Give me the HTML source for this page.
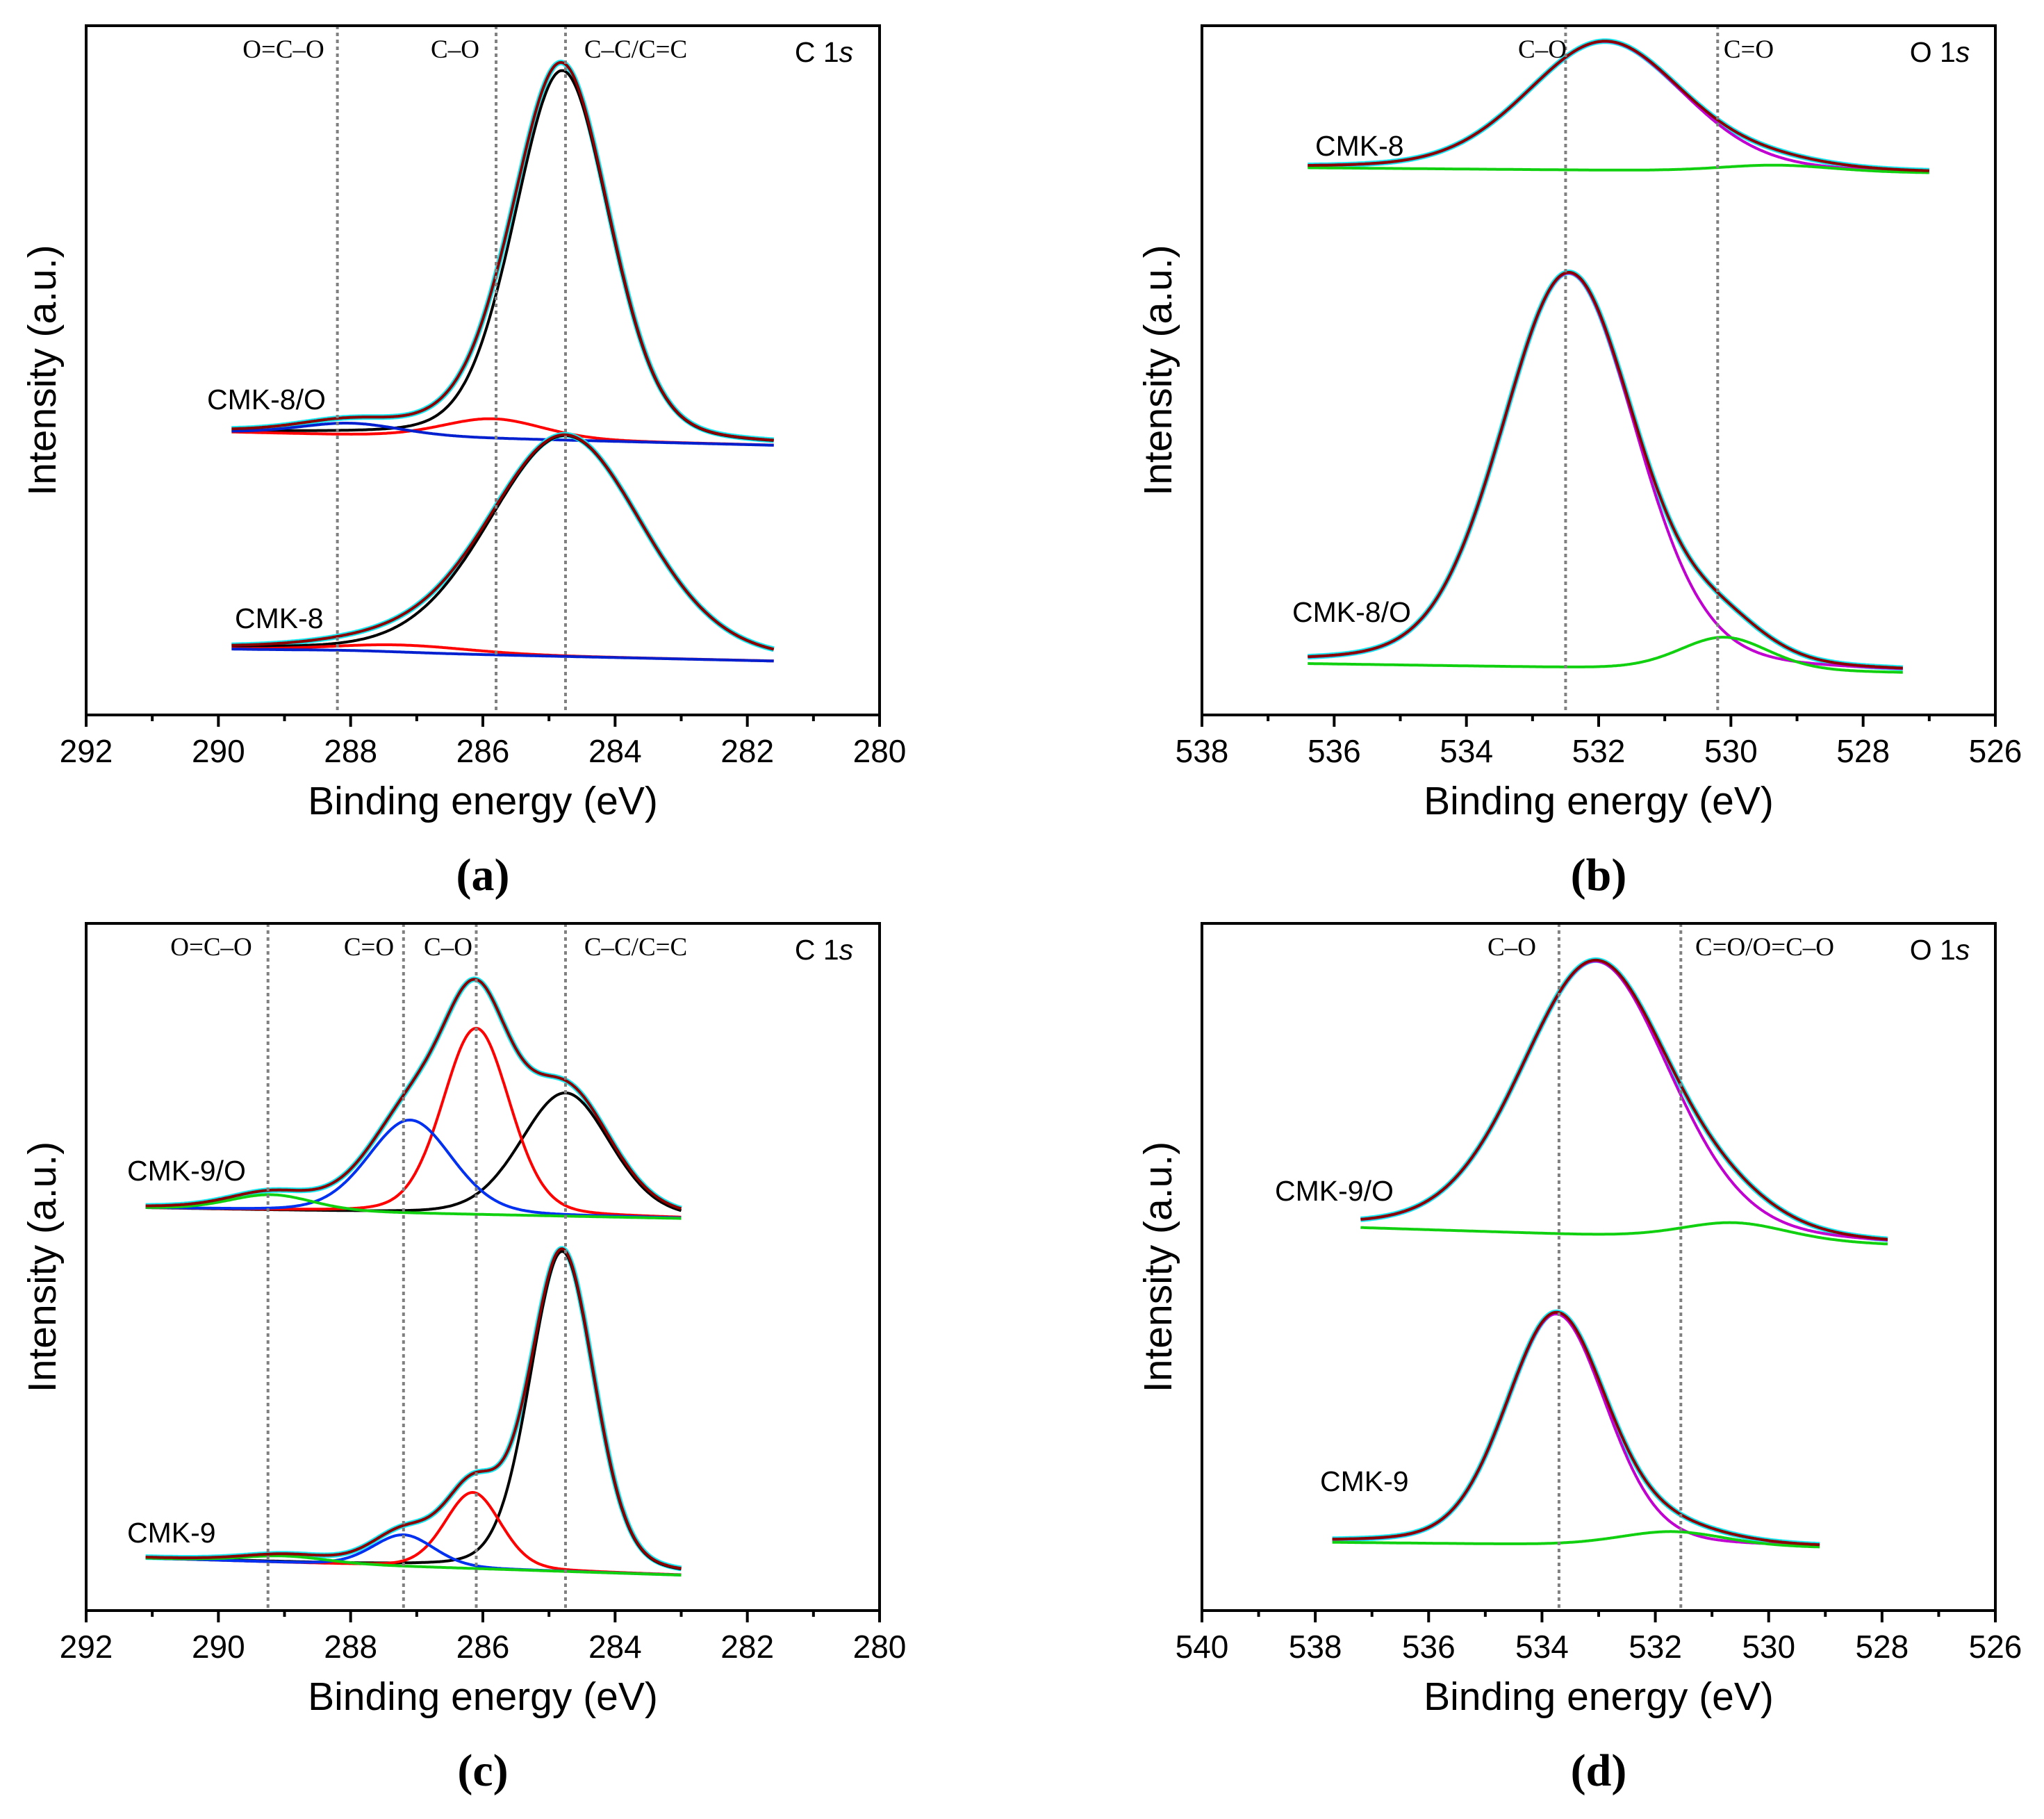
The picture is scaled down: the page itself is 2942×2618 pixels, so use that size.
<!DOCTYPE html>
<html><head><meta charset="utf-8"><style>
body{margin:0;background:#fff}
svg{display:block}
.tk{font-family:"Liberation Sans",sans-serif;font-size:46px;fill:#000}
.ax{font-family:"Liberation Sans",sans-serif;font-size:57px;fill:#000}
.bl{font-family:"Liberation Serif",serif;font-size:37px;fill:#000}
.sm{font-family:"Liberation Sans",sans-serif;font-size:41px;fill:#000}
.pl{font-family:"Liberation Serif",serif;font-size:66px;font-weight:bold;fill:#000}
</style></head><body>
<svg id="fig" width="2942" height="2618" xmlns="http://www.w3.org/2000/svg"></svg>
<script>
// ---- Data (intensities in arbitrary units, energies in eV) ----
// Panel a: C 1s, CMK-8/O
const aO_range=[289.8,281.6];
const aO_bg=[215,205];
const aO_centers=[284.8,285.85,288.0];
const aO_heights=[281,15,9];
const aO_fwhm=[1.7,1.8,1.8];
// Panel a: C 1s, CMK-8
const a8_range=[289.8,281.6];
const a8_bg=[50,41];
const a8_centers=[284.75,287.3,288.0];
const a8_heights=[168,6,1];
const a8_fwhm=[2.75,2.5,2.0];
const a_lines=[288.2,285.8,284.75];
// Panel b: O 1s, CMK-8
const b8_range=[536.4,527.0];
const b8_bg=[416,412];
const b8_centers=[531.9,529.3];
const b8_heights=[98,5];
const b8_fwhm=[2.8,2.0];
// Panel b: O 1s, CMK-8/O
const bO_range=[536.4,527.4];
const bO_bg=[39,32];
const bO_centers=[532.45,530.1];
const bO_heights=[300,25];
const bO_fwhm=[2.4,1.6];
const b_lines=[532.5,530.2];
// Panel c: C 1s, CMK-9/O
const cO_range=[291.1,283.0];
const cO_bg=[307,299];
const cO_centers=[284.75,286.1,287.1,289.2];
const cO_heights=[94,142,71,12];
const cO_fwhm=[1.6,1.2,1.5,1.5];
// Panel c: C 1s, CMK-9
const c9_range=[291.1,283.0];
const c9_bg=[40,27];
const c9_centers=[284.8,286.15,287.2,289.0];
const c9_heights=[244,58,24,5];
const c9_fwhm=[1.15,1.0,1.1,1.5];
const c_lines=[289.25,287.2,286.1,284.75];
// Panel d: O 1s, CMK-9/O
const dO_range=[537.2,527.9];
const dO_bg=[292,279];
const dO_centers=[533.05,530.6];
const dO_heights=[209,13];
const dO_fwhm=[3.1,2.2];
// Panel d: O 1s, CMK-9
const d9_range=[537.7,529.1];
const d9_bg=[52,48];
const d9_centers=[533.75,531.7];
const d9_heights=[176,11];
const d9_fwhm=[2.1,2.2];
const d_lines=[533.7,531.55];
// Tick values
const a_ticks=[292,291,290,289,288,287,286,285,284,283,282,281,280];
const b_ticks=[538,537,536,535,534,533,532,531,530,529,528,527,526];
const d_ticks=[540,539,538,537,536,535,534,533,532,531,530,529,528,527,526];

const NS="http://www.w3.org/2000/svg";
const svg=document.getElementById('fig');
function el(tag,attrs,parent){const e=document.createElementNS(NS,tag);for(const k in attrs)e.setAttribute(k,attrs[k]);(parent||svg).appendChild(e);return e;}
function txt(s,x,y,cls,parent,anchor){const t=el('text',{x:x,y:y,class:cls,'text-anchor':anchor||'middle'},parent);t.textContent=s;return t;}

function makePanel(name,x0,y0,x1,y1,e0,e1){
  const g=el('g',{});
  
  
  const p={g,x0,y0,x1,y1,e0,e1,
    X:e=>x0+(e0-e)/(e0-e1)*(x1-x0),
    Y:i=>y1-i*(y1-y0)/524};
  return p;
}
function pv(x,c,h,w){const eta=0.2;const d=(x-c)/w;
  return h*((1-eta)*Math.exp(-4*Math.LN2*d*d)+eta/(1+4*d*d));}
function path(p,pts,color,width,name){
  let d='';pts.forEach((q,i)=>{d+=(i?'L':'M')+p.X(q[0]).toFixed(1)+','+p.Y(q[1]).toFixed(1);});
  const e=el('path',{d:d,fill:'none',stroke:color,'stroke-width':width,'stroke-linejoin':'round'},p.g);
  
  
  return e;
}
function spectrum(p,range,bg,centers,heights,fwhm,colors,label){
  const bgAt=x=>bg[0]+(bg[1]-bg[0])*(range[0]-x)/(range[0]-range[1]);
  const xs=[];for(let x=range[0];x>=range[1]-1e-9;x-=0.02)xs.push(x);
  const env=xs.map(x=>[x,bgAt(x)+centers.reduce((s,c,i)=>s+pv(x,c,heights[i],fwhm[i]),0)]);
  path(p,env,'#19e6ef',8,label+'-raw-data');
  centers.forEach((c,i)=>{
    path(p,xs.map(x=>[x,bgAt(x)+pv(x,c,heights[i],fwhm[i])]),colors[i],4,label+'-component-'+c);
  });
  path(p,env,'#8b0000',4,label+'-envelope');
}
function axes(p,ticks,majorEvery,lines,lineLabels,corner){
  lines.forEach(v=>{
    const l=el('line',{x1:p.X(v),x2:p.X(v),y1:p.y0,y2:p.y1,stroke:'#808080','stroke-width':4,'stroke-dasharray':'5,5'},p.g);
    
    
  });
  const r=el('rect',{x:p.x0,y:p.y0,width:p.x1-p.x0,height:p.y1-p.y0,fill:'none',stroke:'#000','stroke-width':4},p.g);
  
  
  ticks.forEach(v=>{
    const major=(Math.round(v)%majorEvery===0);
    const t=el('line',{x1:p.X(v),x2:p.X(v),y1:p.y1,y2:p.y1+(major?17:9),stroke:'#000','stroke-width':4},p.g);
    
    
    if(major){const tl=txt(String(v),p.X(v),p.y1+68,'tk',p.g);
      
      }
  });
  lineLabels.forEach(o=>{const t=txt(o[0],o[1],p.y0+46,'bl',p.g);
    
    });
  const c=el('text',{x:p.x1-80,y:p.y0+52,class:'sm','text-anchor':'middle'},p.g);
  c.innerHTML=corner[0]+' 1<tspan font-style="italic">s</tspan>';
  
  
  const xt=txt('Binding energy (eV)',(p.x0+p.x1)/2,p.y1+143,'ax',p.g);
  
  
  const yt=el('text',{x:0,y:0,class:'ax','text-anchor':'middle',transform:'translate('+(p.x0-44)+','+((p.y0+p.y1)/2)+') rotate(-90)'},p.g);
  yt.textContent='Intensity (a.u.)';
  
  
  const pl=txt('('+corner[1]+')',(p.x0+p.x1)/2,p.y1+252,'pl',p.g);
  
  
}
function sampleLabel(p,s,x,y){const t=txt(s,x,y,'sm',p.g,'start');
  
  }

const pa=makePanel('panel-a-c1s',124,37,1266,1029,292,280);
spectrum(pa,aO_range,aO_bg,aO_centers,aO_heights,aO_fwhm,['#000','#f00','#0020d0'],'cmk-8-o');
spectrum(pa,a8_range,a8_bg,a8_centers,a8_heights,a8_fwhm,['#000','#f00','#0020d0'],'cmk-8');
axes(pa,a_ticks,2,a_lines,[['O=C–O',408],['C–O',655],['C–C/C=C',915]],['C','a']);
sampleLabel(pa,'CMK-8/O',298,589);
sampleLabel(pa,'CMK-8',338,904);

const pb=makePanel('panel-b-o1s',1730,37,2872,1029,538,526);
spectrum(pb,b8_range,b8_bg,b8_centers,b8_heights,b8_fwhm,['#c000d0','#10d010'],'cmk-8');
spectrum(pb,bO_range,bO_bg,bO_centers,bO_heights,bO_fwhm,['#c000d0','#10d010'],'cmk-8-o');
axes(pb,b_ticks,2,b_lines,[['C–O',2220],['C=O',2517]],['O','b']);
sampleLabel(pb,'CMK-8',1893,224);
sampleLabel(pb,'CMK-8/O',1860,895);

const pc=makePanel('panel-c-c1s',124,1329,1266,2318,292,280);
spectrum(pc,cO_range,cO_bg,cO_centers,cO_heights,cO_fwhm,['#000','#f00','#0030f0','#10d010'],'cmk-9-o');
spectrum(pc,c9_range,c9_bg,c9_centers,c9_heights,c9_fwhm,['#000','#f00','#0030f0','#10d010'],'cmk-9');
axes(pc,a_ticks,2,c_lines,[['O=C–O',304],['C=O',531],['C–O',645],['C–C/C=C',915]],['C','c']);
sampleLabel(pc,'CMK-9/O',183,1699);
sampleLabel(pc,'CMK-9',183,2220);

const pd=makePanel('panel-d-o1s',1730,1329,2872,2318,540,526);
spectrum(pd,dO_range,dO_bg,dO_centers,dO_heights,dO_fwhm,['#c000d0','#10d010'],'cmk-9-o');
spectrum(pd,d9_range,d9_bg,d9_centers,d9_heights,d9_fwhm,['#c000d0','#10d010'],'cmk-9');
axes(pd,d_ticks,2,d_lines,[['C–O',2176],['C=O/O=C–O',2540]],['O','d']);
sampleLabel(pd,'CMK-9/O',1835,1728);
sampleLabel(pd,'CMK-9',1900,2146);
</script>
</body></html>
